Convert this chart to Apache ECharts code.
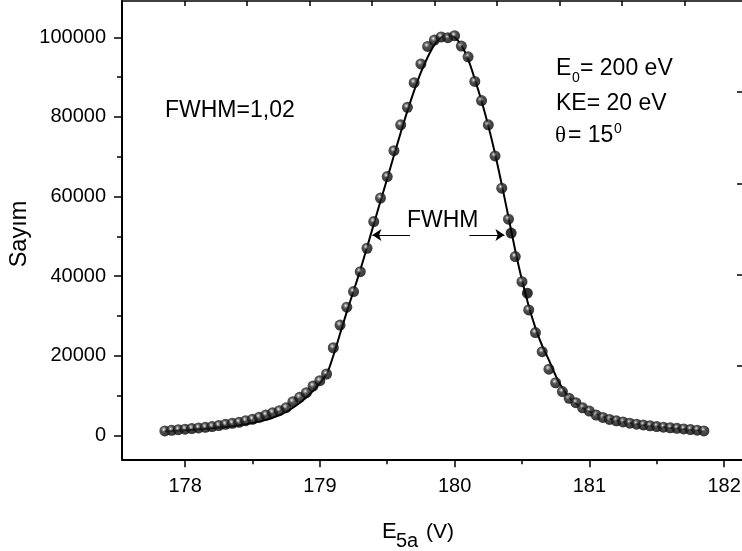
<!DOCTYPE html>
<html><head><meta charset="utf-8">
<script src="https://cdn.jsdelivr.net/npm/echarts@6/dist/echarts.min.js"></script>
<style>html,body{margin:0;padding:0;background:#fff}#c{width:742px;height:551px}</style>
</head><body><div id="c"></div>
<script>
// ---- measured data ----
const energies = [177.85,177.90,177.95,178.00,178.05,178.10,178.15,178.20,178.25,178.30,
  178.35,178.40,178.45,178.50,178.55,178.60,178.65,178.70,178.75,178.80,
  178.85,178.90,178.95,179.00,179.05,179.10,179.15,179.20,179.25,179.30,
  179.35,179.40,179.45,179.50,179.55,179.60,179.65,179.70,179.75,179.80,
  179.85,179.90,179.95,180.00,180.05,180.10,180.15,180.20,180.25,180.30,
  180.35,180.40,180.45,180.50,180.55,180.60,180.65,180.70,180.75,180.80,
  180.85,180.90,180.95,181.00,181.05,181.10,181.15,181.20,181.25,181.30,
  181.35,181.40,181.45,181.50,181.55,181.60,181.65,181.70,181.75,181.80,181.85];
const counts = [1100,1250,1400,1550,1700,1850,2000,2200,2450,2750,
  3020,3270,3670,4020,4520,5100,5680,6180,6940,8440,
  9550,10700,12390,13720,15400,22000,27700,32200,36100,41100,
  47000,53700,59600,65000,71500,78000,82400,88600,93300,97700,
  99300,100100,99900,100400,97800,95100,88900,84100,78000,70200,
  62100,54300,44900,38600,31500,25800,21000,16600,13200,11000,
  9300,8200,6900,6100,5100,4500,4000,3650,3350,3050,
  2800,2600,2400,2200,2050,1900,1750,1600,1450,1300,1100];
// fitted curve
const fitX = [177.85,177.95,178.05,178.15,178.25,178.35,178.45,178.55,178.65,178.75,178.85,178.95,
  179.05,179.10,179.15,179.20,179.25,179.30,179.35,179.40,179.45,179.50,
  179.55,179.60,179.65,179.70,179.75,179.80,179.85,179.90,179.95,180.00,
  180.05,180.10,180.15,180.20,180.25,180.30,180.35,180.40,180.45,180.50,
  180.55,180.60,180.65,180.70,180.75,180.80,180.85,180.90,180.95,181.00,
  181.10,181.20,181.30,181.40,181.50,181.60,181.70,181.80,181.85];
const fitY = [1000,1200,1400,1650,1950,2300,2800,3450,4400,5900,8100,11200,
  15400,20000,25500,31000,36200,41500,47200,53000,58800,64500,
  70300,76000,81500,86600,91200,95000,98100,100000,100600,100000,
  98000,94500,89500,84000,77800,70800,63000,54800,46500,39000,
  32500,27000,22500,18900,15000,11800,9500,8000,6900,6000,
  4700,3800,3150,2650,2250,1900,1600,1300,1150];
// highlighted (solid) points
const markX = [180.42, 180.54];
const markY = [50800, 35700];
// half-maximum arrows
const halfMax = 50300;
const arrowLeft = [179.67, 179.39];
const arrowRight = [180.11, 180.37];
// ticks
const xMajor = [178, 179, 180, 181, 182];
const xMinor = [178.5, 179.5, 180.5, 181.5];
const yMajor = [0, 20000, 40000, 60000, 80000, 100000];
const yMinor = [10000, 30000, 50000, 70000, 90000];
const rightTicks = [1, 2, 3, 4];

const FONT = "'Liberation Sans', Arial, sans-serif";
const X_MIN = 177.532, X_MAX = 182.155;
const Y_MIN = -6030, Y_MAX = 109120;

const chart = echarts.init(document.getElementById('c'), null, {renderer:'canvas'});
const sphere = {type:'radial', x:0.4, y:0.36, r:0.66, colorStops:[
  {offset:0, color:'#f2f2f2'}, {offset:0.13, color:'#9c9c9c'}, {offset:0.36, color:'#262626'}, {offset:1, color:'#000'}]};

function txt(text, left, y, size, extra) {
  return Object.assign({type:'text', left:left, top:y - size*0.47, style:{text:text, font:size+'px '+FONT, fill:'#000'}}, extra||{});
}
function tickAxis(pos, min, max, values, len, inside) {
  return {type:'value', position:pos, min:min, max:max,
    axisLine:{show:false, onZero:false},
    axisTick:{show:true, inside:!!inside, length:len, lineStyle:{color:'#000', width:1.5}, customValues:values},
    axisLabel:{show:false}, splitLine:{show:false}};
}

chart.setOption({
  animation:false,
  backgroundColor:'#fff',
  grid:{left:122, top:1, width:623, height:458.3, outerBoundsMode:'none', containLabel:false},
  xAxis:[
    {type:'value', position:'bottom', min:X_MIN, max:X_MAX,
     axisLine:{show:true, onZero:false, lineStyle:{color:'#000', width:2}},
     axisTick:{show:false},
     axisLabel:{show:true, customValues:xMajor, formatter:v=>String(v), fontSize:20, fontFamily:FONT, color:'#000', margin:17},
     splitLine:{show:false}},
    tickAxis('bottom', X_MIN, X_MAX, xMajor, 8, false),
    tickAxis('bottom', X_MIN, X_MAX, xMinor, 5, false),
    {type:'value', position:'top', min:0, max:9.968, interval:1,
     axisLine:{show:true, onZero:false, lineStyle:{color:'#000', width:1.5}},
     axisTick:{show:true, inside:true, length:5, lineStyle:{color:'#000', width:1.5}},
     axisLabel:{show:false}, splitLine:{show:false}}
  ],
  yAxis:[
    {type:'value', position:'left', min:Y_MIN, max:Y_MAX,
     axisLine:{show:true, onZero:false, lineStyle:{color:'#000', width:2}},
     axisTick:{show:false},
     axisLabel:{show:true, customValues:yMajor, formatter:v=>String(v), fontSize:20, fontFamily:FONT, color:'#000', margin:16},
     splitLine:{show:false}},
    tickAxis('left', Y_MIN, Y_MAX, yMajor, 8, false),
    tickAxis('left', Y_MIN, Y_MAX, yMinor, 5, false),
    {type:'value', position:'right', min:-0.0245, max:5.0,
     axisLine:{show:true, onZero:false, lineStyle:{color:'#000', width:1.5}},
     axisTick:{show:true, inside:true, length:8, lineStyle:{color:'#000', width:1.5}, customValues:rightTicks},
     axisLabel:{show:false}, splitLine:{show:false}}
  ],
  series:[
    {type:'line', name:'fit', xAxisIndex:0, yAxisIndex:0, z:2,
     data:fitX.map((x,i)=>[x, fitY[i]]), showSymbol:false, smooth:0.3,
     lineStyle:{color:'#000', width:2},
     markLine:{silent:true, symbol:['none','arrow'], symbolSize:9, animation:false,
       lineStyle:{color:'#000', width:1, type:'solid'}, label:{show:false},
       emphasis:{disabled:true},
       data:[
         [{coord:[arrowLeft[0], halfMax]}, {coord:[arrowLeft[1], halfMax]}],
         [{coord:[arrowRight[0], halfMax]}, {coord:[arrowRight[1], halfMax]}]
       ]}},
    {type:'scatter', name:'data', xAxisIndex:0, yAxisIndex:0, z:3,
     data:energies.map((x,i)=>[x, counts[i]]), symbol:'circle', symbolSize:11,
     itemStyle:{color:sphere}},
    {type:'scatter', name:'marked', xAxisIndex:0, yAxisIndex:0, z:4,
     data:markX.map((x,i)=>[x, markY[i]]), symbol:'circle', symbolSize:11,
     itemStyle:{color:'#000'}}
  ],
  graphic:[
    txt('FWHM=1,02', 165, 110, 23),
    txt('FWHM', 407, 220, 23),
    txt('E', 556, 67.5, 23),
    txt('0', 572, 78, 14),
    txt('= 200 eV', 580, 67.5, 23),
    txt('KE= 20 eV', 556, 103, 23),
    {type:'text', left:555, top:135-11, style:{text:'θ', font:"23px 'Liberation Serif', 'DejaVu Serif', serif", fill:'#000'}},
    txt('= 15', 568, 135, 23),
    txt('0', 614, 129, 14),
    {type:'text', x:20, y:234, rotation:Math.PI/2,
     style:{text:'Sayım', font:'23.5px '+FONT, fill:'#000', align:'center', verticalAlign:'middle'}},
    txt('E', 382, 531, 22),
    txt('5a', 396, 541, 20),
    txt('(V)', 426, 532, 21)
  ]
});
</script></body></html>
